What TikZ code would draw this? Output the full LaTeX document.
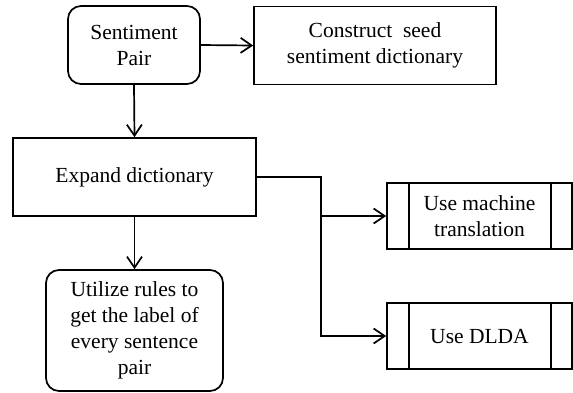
\documentclass[tikz,border=0pt]{standalone}
\usepackage{fontspec}
\setmainfont{Liberation Serif}
\usetikzlibrary{arrows.meta}
\begin{document}
\begin{tikzpicture}[x=1pt,y=-1pt,
  every node/.style={font=\fontsize{21.5}{26}\selectfont, align=center, inner sep=0pt},
  box/.style={draw, line width=1.7pt, minimum width=#1},
  rbox/.style={draw, line width=1.7pt, rounded corners=13pt},
  arr/.style={line width=1.7pt, -{Straight Barb[length=11pt,width=15pt,line width=1.7pt]}},
  ln/.style={line width=1.7pt}]
\useasboundingbox (0,0) rectangle (573,392);
\node[rbox, minimum width=132pt, minimum height=78pt] (sp) at (134,45) {Sentiment\\Pair};
\node[box=242pt, minimum height=78pt] (cs) at (375,45.5) {Construct\ \ seed\\sentiment dictionary};
\node[box=243pt, minimum height=78pt] (ed) at (134.5,177) {Expand dictionary};
\node[rbox, minimum width=177pt, minimum height=121pt] (ut) at (134.5,330.5) {Utilize rules to\\get the label of\\every sentence\\pair};
\node[box=185pt, minimum height=66pt] (mt) at (479.5,216) {Use machine\\translation};
\node[box=185pt, minimum height=66pt] (dl) at (479.5,336) {Use DLDA};
\draw[ln] ([xshift=23pt]mt.north west) -- ([xshift=23pt]mt.south west);
\draw[ln] ([xshift=-22pt]mt.north east) -- ([xshift=-22pt]mt.south east);
\draw[ln] ([xshift=23pt]dl.north west) -- ([xshift=23pt]dl.south west);
\draw[ln] ([xshift=-22pt]dl.north east) -- ([xshift=-22pt]dl.south east);
\coordinate (br) at (321,177);
\draw[arr] (sp.east) -- (cs.west);
\draw[arr] (sp.south) -- (ed.north);
\draw[arr] (ed.south) -- (ut.north);
\draw[arr] (ed.east) -- (br) |- (dl.west);
\draw[arr] (mt.west -| br) -- (mt.west);
\end{tikzpicture}
\end{document}
